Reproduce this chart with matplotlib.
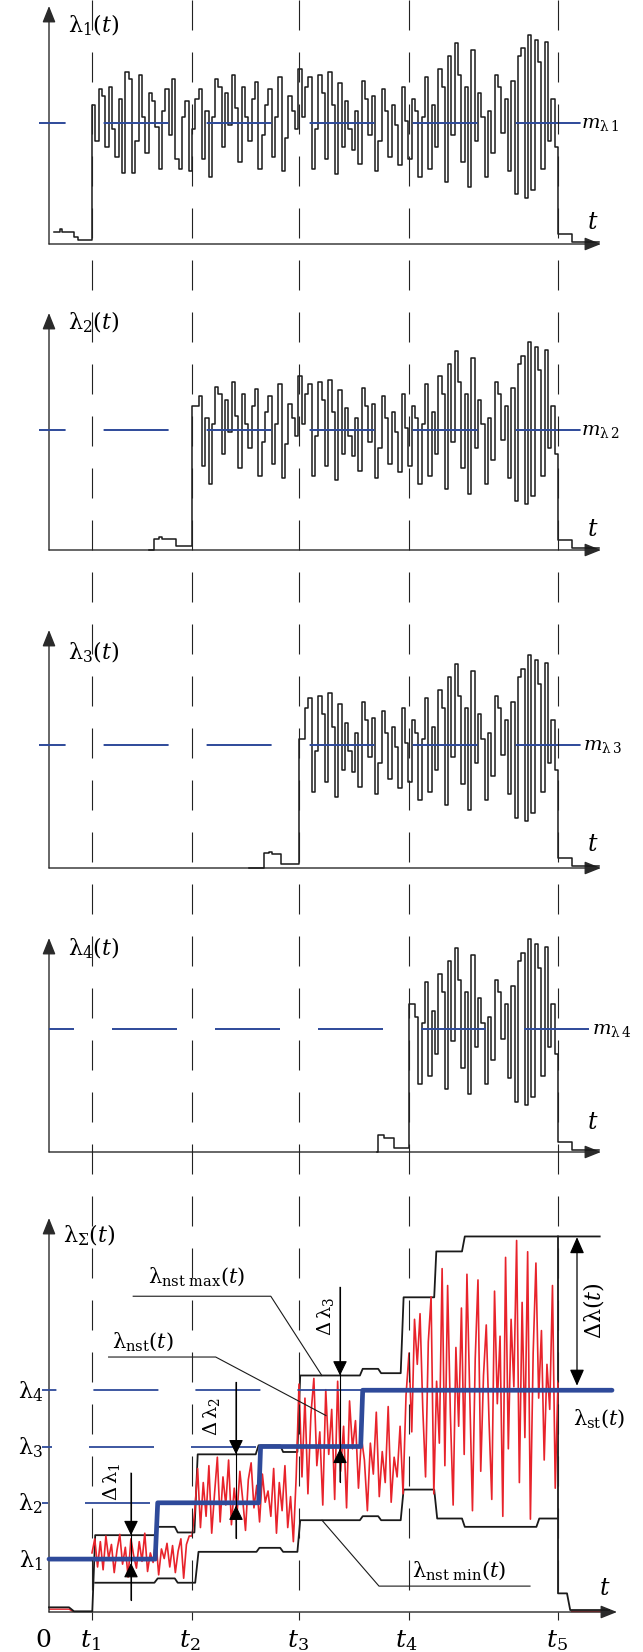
import numpy as np
import matplotlib.pyplot as plt

plt.rcParams['font.family'] = ['DejaVu Serif']
plt.rcParams['mathtext.fontset'] = 'custom'
plt.rcParams['mathtext.rm'] = 'DejaVu Serif'
plt.rcParams['mathtext.it'] = 'DejaVu Serif:italic'
plt.rcParams['mathtext.bf'] = 'DejaVu Serif:bold'
plt.rcParams['lines.scale_dashes'] = False

# time axis: 1 unit = 10 px of the original picture
T = [4.3, 14.3, 25.0, 36.0, 50.9]
tick_names = ['0', '$t_1$', '$t_2$', '$t_3$', '$t_4$', '$t_5$']
tick_pos = [-0.6, 4.1, 14.1, 24.9, 35.7, 50.8]

# step noise shared by the four channels (mean level = 1)
noise = [1.15, 0.85, 1.28, 1.22, 0.80, 1.30, 0.95, 0.72, 1.20, 0.59, 1.42, 1.36, 0.59,
         0.85, 1.40, 1.05, 0.75, 1.25, 1.18, 0.97, 0.62, 1.10, 1.28, 0.90, 1.36, 0.70,
         0.62, 1.05, 1.18, 0.60,
         0.95, 1.20, 1.28, 0.70, 1.10, 0.55, 1.05, 1.36, 1.30, 0.80, 1.25, 0.98, 1.40,
         1.12, 0.68, 1.30, 1.05, 0.85, 1.20, 1.34, 0.62, 0.90, 1.15, 1.28, 0.72, 1.05,
         1.38, 0.60, 0.88, 1.22, 1.10, 0.95,
         1.45, 1.05, 1.30, 1.38, 0.62, 0.95, 1.40, 1.25, 0.70, 1.42, 1.15, 0.58, 1.33,
         0.80, 1.18, 0.95, 0.78, 1.10, 0.66, 1.35, 1.20, 0.90, 1.22, 0.60, 0.85, 1.28,
         1.10, 0.72, 1.15, 0.98, 0.65, 1.30, 1.02,
         0.70, 1.20, 1.10, 0.55, 1.05, 1.38, 0.62, 1.15, 0.80, 1.45, 1.30, 0.51, 1.55,
         0.90, 1.66, 1.40, 0.68, 1.30, 0.47, 1.60, 0.85, 1.25, 1.05, 0.55, 1.10, 0.75,
         1.40, 1.30, 0.92, 1.20, 0.60, 1.35, 0.41, 1.55, 1.62, 0.38, 1.73, 0.45, 1.69,
         1.50, 0.62, 1.67, 0.85, 1.20, 0.80]

# small blips before each channel switches on
pre1_t = [0.5, 1.1, 1.3, 2.5, 2.9]
pre1_v = [0.10, 0.12, 0.10, 0.06, 0.03]
pre2_t = [10.0, 10.45, 11.0, 11.3, 12.7]
pre2_v = [0.0, 0.09, 0.11, 0.09, 0.03]
pre3_t = [20.0, 21.45, 22.0, 22.3, 23.2]
pre3_v = [0.0, 0.12, 0.13, 0.11, 0.03]
pre4_t = [32.8, 32.9, 33.5, 34.3, 34.5]
pre4_v = [0.0, 0.14, 0.11, 0.11, 0.03]
post_v = [0.08, 0.015, 0.015]

# summary panel
lam = [0.94, 1.94, 2.94, 3.94]
st_t = [0, 10.62, 10.87, 20.96, 21.16, 31.17, 31.37, 56.3]
st_v = [lam[0], lam[0], lam[1], lam[1], lam[2], lam[2], lam[3], lam[3]]

hi_t = [0, 2.0, 2.5, 4.33, 4.62, 10.54, 10.87, 12.58, 12.87, 14.54, 14.87, 20.67, 20.96,
        23.12, 23.41, 24.84, 25.12, 31.09, 31.37, 32.92, 33.21, 35.17, 35.46, 38.52,
        38.73, 41.30, 41.58, 55.07]
hi_v = [0.083, 0.083, 0.012, 0.012, 1.365, 1.365, 1.513, 1.513, 1.413, 1.413, 2.801,
        2.801, 2.961, 2.961, 2.843, 2.843, 4.202, 4.202, 4.320, 4.320, 4.243, 4.243,
        5.591, 5.591, 6.406, 6.406, 6.672, 6.672]
lo_t = [4.62, 10.54, 10.87, 12.58, 12.87, 14.62, 14.95, 20.75, 21.04, 23.12, 23.41, 24.84,
        25.12, 31.09, 31.37, 32.92, 33.21, 35.17, 35.46, 38.52, 38.82, 41.3, 41.58, 48.74,
        49.03, 50.9]
lo_v = [0.520, 0.520, 0.597, 0.597, 0.520, 0.520, 1.069, 1.069, 1.140, 1.140, 1.069,
        1.069, 1.631, 1.631, 1.702, 1.702, 1.631, 1.631, 2.175, 2.175, 1.661, 1.661,
        1.513, 1.513, 1.661, 1.661]
end_t = [50.9, 50.9, 51.8, 52.12, 56.0]
end_v = [6.672, 0.331, 0.331, 0.035, 0.035]

red1 = [1.05, 1.30, 0.80, 1.25, 0.75, 1.35, 0.95, 1.20, 0.70, 1.10, 1.38, 0.85, 1.15,
        0.62, 1.30, 1.00, 0.78, 1.25, 0.90, 1.40, 0.72, 1.05, 0.88, 1.28, 0.66, 1.12,
        0.95, 1.22, 0.80, 1.18, 0.70, 1.08, 1.30, 0.60, 1.20, 1.35]
red2 = [1.35, 1.80, 2.55, 1.50, 2.30, 1.70, 2.60, 1.40, 2.10, 2.75, 1.60, 2.40, 1.90,
        2.70, 1.55, 2.20, 1.75, 2.50, 2.00, 1.45, 2.35, 2.65, 1.85, 2.25, 1.60, 2.45,
        1.95, 2.15, 1.70, 2.55, 1.40, 2.30, 1.80, 2.60, 1.50, 2.05, 1.25, 2.40]
red3 = [4.05, 2.40, 3.80, 2.10, 3.50, 4.15, 2.60, 3.20, 1.90, 3.95, 2.80, 3.60, 2.00,
        4.10, 2.50, 3.30, 1.85, 3.75, 2.90, 3.40, 2.20, 3.10, 2.70, 1.80, 3.00, 2.45,
        3.55, 2.05, 2.85, 2.30, 3.65, 1.95, 2.75, 2.40, 3.30, 2.10, 3.85]
red4 = [4.60, 3.20, 5.20, 4.40, 5.30, 3.60, 2.40, 4.80, 5.60, 2.10, 4.10, 3.00, 6.10,
        2.60, 5.80, 3.50, 1.90, 4.70, 3.30, 5.40, 2.80, 6.00, 3.90, 1.80, 4.50, 5.90,
        2.50, 4.20, 5.10, 3.40, 2.00, 5.70, 3.70, 4.90, 1.70, 6.30, 2.90, 5.20, 4.00,
        6.60, 2.30, 5.50, 3.10, 6.40, 1.65, 4.60, 6.20, 3.80, 5.00, 2.70, 4.40, 3.60,
        5.80, 2.20, 4.10]

# page geometry (pixels of the original)
W, H = 643, 1652
X0, X1 = 49, 617
XMAX = (X1 - X0) / 10
PX = 0.72  # points per pixel at dpi 100
axis_rows = [244, 550, 868, 1152, 1612]
top_rows = [6, 313, 630, 938, 1218]
mean_rows = [123, 430, 745, 1029]
BLUE = '#2E4A9A'
RED = '#E8232B'
INK = '#1a1a1a'
FS = 15

fig = plt.figure(figsize=(W / 100, H / 100), dpi=100)


def make_ax(i, ytop):
    ax = fig.add_axes([X0 / W, 1 - axis_rows[i] / H, (X1 - X0) / W,
                       (axis_rows[i] - top_rows[i]) / H])
    ax.set_xlim(0, XMAX)
    ax.set_ylim(0, ytop)
    ax.set_axis_off()
    return ax


def draw_arrows(ax, xend, ytop):
    st = dict(arrowstyle='-|>,head_length=0.5,head_width=0.2', color='#2a2a2a', lw=1.0,
              shrinkA=0, shrinkB=0, mutation_scale=20)
    ax.annotate('', xy=(xend, 0), xytext=(0, 0), arrowprops=st, annotation_clip=False)
    ax.annotate('', xy=(0, ytop), xytext=(0, 0), arrowprops=st, annotation_clip=False)


def dashed_level(ax, y, t0, t1, first, lw=1.4, gap=38):
    dash = 65
    ax.plot([t0, t1], [y, y], color=BLUE, lw=lw, clip_on=False, zorder=4,
            linestyle=((dash - first) * PX, (dash * PX, gap * PX)))


pres = [(pre1_t, pre1_v), (pre2_t, pre2_v), (pre3_t, pre3_v), (pre4_t, pre4_v)]
N = len(noise)
dt = (T[4] - T[0]) / N
dash_first = [26.6, 26.6, 26.6, 25]
dash_start = [-1.0, -1.0, -1.0, 0.0]
dash_end = [53.4, 53.4, 53.4, 54.44]
mlab_x = [53.2, 53.2, 53.4, 54.3]
lab_y = [1.75, 1.84, 1.70, 1.60]
tlab_y = [0.18, 0.17, 0.19, 0.24]

for k in range(4):
    ytop = (axis_rows[k] - top_rows[k]) / (axis_rows[k] - mean_rows[k])
    ax = make_ax(k, ytop)
    draw_arrows(ax, 55.2, ytop)
    idx = int(np.ceil((T[k] - T[0]) / dt - 1e-9))
    xs = [T[k]] + [T[0] + i * dt for i in range(idx + 1, N)]
    vs = noise[idx:]
    x = list(pres[k][0]) + xs + [T[4], T[4] + 1.4, 55.0]
    v = list(pres[k][1]) + vs + post_v
    ax.plot(x, v, drawstyle='steps-post', color=INK, lw=1.1, clip_on=False, zorder=3)
    dashed_level(ax, 1.0, dash_start[k], dash_end[k], dash_first[k])
    ax.text(1.95, lab_y[k], r'$\mathrm{\lambda}_%d(t)$' % (k + 1), fontsize=16,
            va='baseline', ha='left')
    ax.text(mlab_x[k], 0.96, r'$m_{\mathrm{\lambda}\,%d}$' % (k + 1), fontsize=14,
            va='baseline', ha='left')
    ax.text(53.8, tlab_y[k], '$t$', fontsize=17, va='center', ha='left')

# summary panel
ax = make_ax(4, 7.0)
draw_arrows(ax, XMAX, 7.0)
ax.plot(hi_t, hi_v, color=INK, lw=1.3, clip_on=False, zorder=3)
ax.plot(lo_t, lo_v, color=INK, lw=1.3, clip_on=False, zorder=3)
ax.plot(end_t, end_v, color=INK, lw=1.3, clip_on=False, zorder=3)
ax.plot([0, 2.0, 2.5, 4.3], [0.05, 0.05, 0.0, 0.0], color=RED, lw=1.0, zorder=2)
ax.plot([52.2, 56.0], [0.012, 0.012], color=RED, lw=1.0, zorder=2, clip_on=False)

segs = [red1, red2, red3, red4]
red_t = np.concatenate([np.linspace(T[k], T[k + 1], len(segs[k]), endpoint=(k == 3))
                        for k in range(4)])
red_v = np.concatenate(segs)
ax.plot(red_t, red_v, color=RED, lw=1.2, zorder=4)

dashed_level(ax, lam[3], -0.7, 31.37, 14.4, lw=1.3, gap=37)
dashed_level(ax, lam[2], -0.7, 20.96, 10.0, lw=1.3, gap=37)
dashed_level(ax, lam[1], -0.7, 10.87, 6.0, lw=1.3, gap=37)
ax.plot(st_t, st_v, color=BLUE, lw=3.4, solid_capstyle='round', clip_on=False, zorder=5)

for i, y in enumerate(lam):
    ax.text(-1.85, y - 0.14, r'$\mathrm{\lambda}_%d$' % (i + 1), fontsize=16,
            ha='center', va='baseline')

ax.text(1.4, 6.57, r'$\mathrm{\lambda}_{\Sigma}(t)$', fontsize=16, va='baseline')
ax.text(55.6, 0.42, '$t$', fontsize=17, va='center', ha='center')

for name, pos in zip(tick_names, tick_pos):
    ax.text(pos, -0.5, name, fontsize=18, ha='center', va='center')

# labels with leader lines
ax.text(9.93, 5.85, r'$\mathrm{\lambda}_{\mathrm{nst\ max}}(t)$', fontsize=FS, va='baseline')
ax.plot([8.42, 22.18, 27.29], [5.61, 5.61, 4.20], color=INK, lw=0.8, zorder=6)
ax.text(6.25, 4.70, r'$\mathrm{\lambda}_{\mathrm{nst}}(t)$', fontsize=FS, va='baseline')
ax.plot([5.96, 16.67, 27.7], [4.53, 4.53, 3.49], color=INK, lw=0.8, zorder=6)
ax.text(36.27, 0.62, r'$\mathrm{\lambda}_{\mathrm{nst\ min}}(t)$', fontsize=FS, va='baseline')
ax.plot([48.1, 33.0, 27.3], [0.46, 0.46, 1.63], color=INK, lw=0.8, zorder=6)
ax.text(52.4, 3.32, r'$\mathrm{\lambda}_{\mathrm{st}}(t)$', fontsize=FS, va='baseline')

# delta arrows
head = dict(arrowstyle='-|>,head_length=0.45,head_width=0.22', color='black', lw=0.8,
            shrinkA=0, shrinkB=0, mutation_scale=20)
deltas = [(8.2, 2.47, 0.21, 1.365, lam[0] - 0.07, 6.2, 2.32),
          (18.7, 4.08, 1.31, 2.801, lam[1] - 0.05, 16.25, 3.48),
          (29.1, 5.77, 2.31, 4.202, lam[2] - 0.04, 27.7, 5.25)]
for j, (x, top, bot, tip_hi, tip_lo, lx, ly) in enumerate(deltas):
    ax.plot([x, x], [top, bot], color='black', lw=0.8, zorder=6)
    ax.annotate('', xy=(x, tip_hi), xytext=(x, top), arrowprops=head, zorder=7)
    ax.annotate('', xy=(x, tip_lo), xytext=(x, bot), arrowprops=head, zorder=7)
    ax.text(lx, ly, r'$\mathrm{\Delta\,\lambda}_%d$' % (j + 1), fontsize=14,
            rotation=90, ha='center', va='center')

ax.annotate('', xy=(52.8, 6.66), xytext=(52.8, 4.02), annotation_clip=False,
            arrowprops=dict(arrowstyle='<|-|>,head_length=0.5,head_width=0.22',
                            color='black', lw=0.9, shrinkA=0, shrinkB=0, mutation_scale=20))
ax.text(54.45, 5.35, r'$\mathrm{\Delta\lambda}(t)$', fontsize=16, rotation=90,
        ha='center', va='center')

# dashed guide lines through all panels
ov = fig.add_axes([X0 / W, 0, (X1 - X0) / W, 1])
ov.set_xlim(0, XMAX)
ov.set_ylim(H, 0)
ov.set_axis_off()
ov.patch.set_alpha(0)
for tk in T:
    ov.plot([tk, tk], [0, 1620], color='#222', lw=0.8,
            linestyle=(0, (30 * PX, 22 * PX)))

fig.savefig('out.png', dpi=100)
